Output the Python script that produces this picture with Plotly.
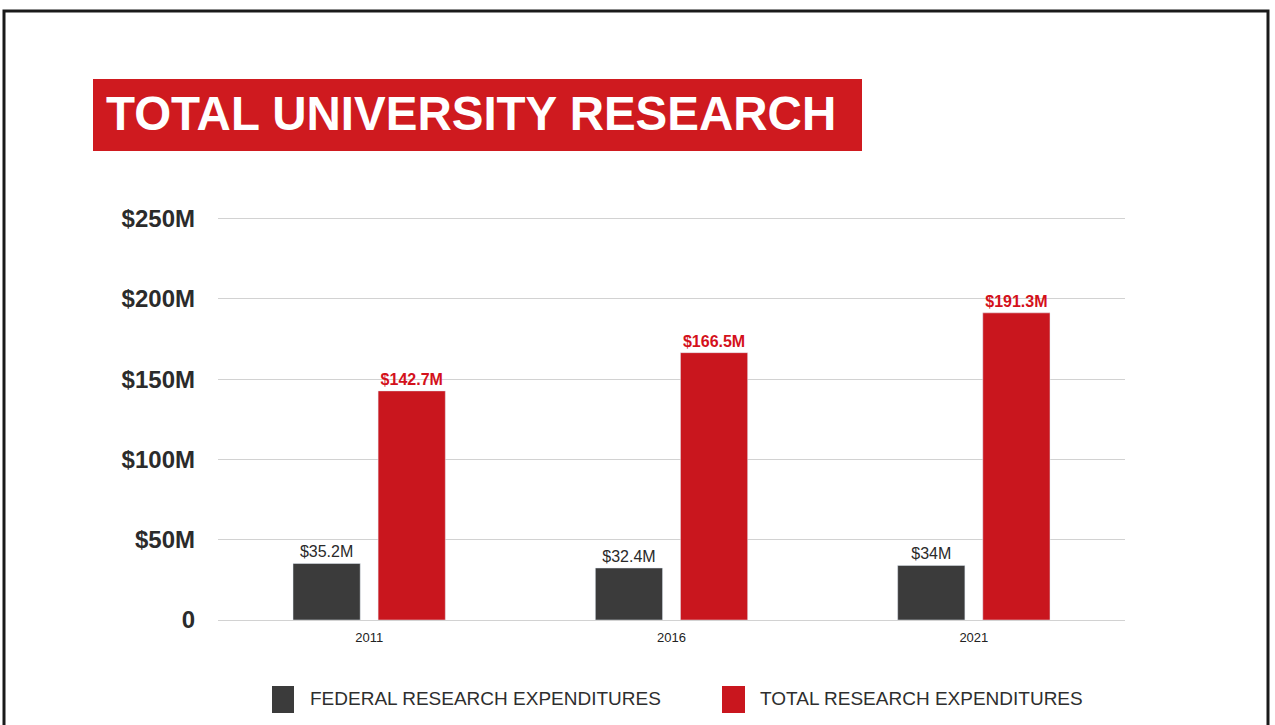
import plotly.graph_objects as go

years = ["2011", "2016", "2021"]
federal = [35.2, 32.4, 34]
total = [142.7, 166.5, 191.3]
tick_vals = [0, 50, 100, 150, 200, 250]
tick_text = ["0", "$50M", "$100M", "$150M", "$200M", "$250M"]
series_names = ["FEDERAL RESEARCH EXPENDITURES", "TOTAL RESEARCH EXPENDITURES"]
title_text = "TOTAL UNIVERSITY RESEARCH"

RED = "#C9161E"
DARK = "#3B3B3B"

W, H = 1275, 725
L, R, T, B = 218, 150, 217, 105
PW = W - L - R
PH = H - T - B


def px(x):
    return (x - L) / PW


def py(y):
    return (H - B - y) / PH


def fmt(v):
    return f"${v:g}M"


fig = go.Figure()
fig.add_trace(go.Bar(
    x=years, y=federal, name=series_names[0], marker_color=DARK,
    text=[fmt(v) for v in federal], textposition="outside",
    textfont=dict(family="Liberation Sans", size=16, color="#2a2a2a"),
    cliponaxis=False,
))
fig.add_trace(go.Bar(
    x=years, y=total, name=series_names[1], marker_color=RED,
    text=[fmt(v) for v in total], textposition="outside",
    textfont=dict(family="Liberation Sans", size=16, color="#D4111B", weight="bold"),
    cliponaxis=False,
))

fig.update_layout(
    width=W, height=H,
    margin=dict(l=L, r=R, t=T, b=B),
    paper_bgcolor="white", plot_bgcolor="white",
    barmode="group", bargap=0.437, bargroupgap=0.21,
    showlegend=False,
    xaxis=dict(
        type="category", range=[-0.5, 2.5], showgrid=False, showline=False,
        ticks="", tickfont=dict(family="Liberation Sans", size=13, color="#222"),
        ticklabelstandoff=8,
    ),
    yaxis=dict(
        range=[0, 251], tickvals=tick_vals, ticktext=tick_text,
        showgrid=True, gridcolor="#d2d2d2", gridwidth=1,
        zeroline=True, zerolinecolor="#d2d2d2", zerolinewidth=1,
        showline=False, ticks="",
        tickfont=dict(family="Liberation Sans", size=24, color="#2b2b2b", weight="bold"),
        ticklabelstandoff=22,
    ),
)

shapes = []
annotations = []
# page frame
shapes.append(dict(type="rect", xref="paper", yref="paper",
                   x0=px(4), x1=px(1268), y0=py(760), y1=py(11),
                   line=dict(color="#1a1a1a", width=3), fillcolor="rgba(0,0,0,0)", layer="below"))
# title banner
shapes.append(dict(type="rect", xref="paper", yref="paper",
                   x0=px(93), x1=px(862), y0=py(151), y1=py(79),
                   line=dict(width=0), fillcolor="#CF1A1F"))
annotations.append(dict(xref="paper", yref="paper", x=px(104), y=py(113),
                        xanchor="left", yanchor="middle", showarrow=False,
                        text=title_text,
                        font=dict(family="Liberation Sans", size=47.5, color="white", weight="bold")))
# legend
leg = [(272, 294, 308, DARK), (722, 745, 758, RED)]
for (x0, x1, tx, col), name in zip(leg, series_names):
    shapes.append(dict(type="rect", xref="paper", yref="paper",
                       x0=px(x0), x1=px(x1), y0=py(713), y1=py(686),
                       line=dict(width=0), fillcolor=col))
    annotations.append(dict(xref="paper", yref="paper", x=px(tx), y=py(698),
                            xanchor="left", yanchor="middle", showarrow=False,
                            text=name,
                            font=dict(family="Liberation Sans", size=19, color="#2e2e2e")))

fig.update_layout(shapes=shapes, annotations=annotations)
fig.write_html("out.html",
               config={"displayModeBar": False},
               post_script="document.body.style.margin='0';document.body.style.overflow='hidden';")
